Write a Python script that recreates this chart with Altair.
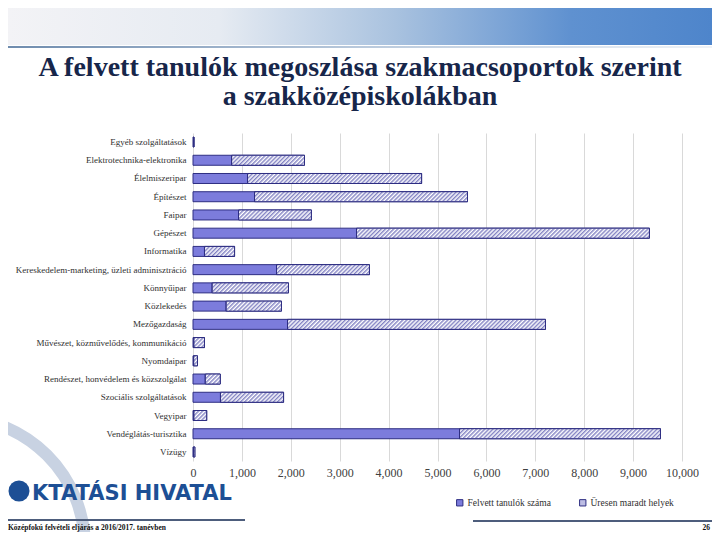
import base64
import altair as alt
import pandas as pd

# ---- data ----
categories = [
    "Egyéb szolgáltatások",
    "Elektrotechnika-elektronika",
    "Élelmiszeripar",
    "Építészet",
    "Faipar",
    "Gépészet",
    "Informatika",
    "Kereskedelem-marketing, üzleti adminisztráció",
    "Könnyűipar",
    "Közlekedés",
    "Mezőgazdaság",
    "Művészet, közművelődés, kommunikáció",
    "Nyomdaipar",
    "Rendészet, honvédelem és közszolgálat",
    "Szociális szolgáltatások",
    "Vegyipar",
    "Vendéglátás-turisztika",
    "Vízügy",
]
felvett = [12, 790, 1115, 1258, 931, 3344, 235, 1708, 393, 679, 1933, 20, 15, 252, 562, 20, 5450, 10]
ures = [8, 1490, 3560, 4355, 1490, 5990, 615, 1900, 1560, 1130, 5275, 215, 77, 305, 1290, 260, 4110, 28]
series_names = ["Felvett tanulók száma", "Üresen maradt helyek"]
x_ticks = [0, 1000, 2000, 3000, 4000, 5000, 6000, 7000, 8000, 9000, 10000]

title_lines = "A felvett tanulók megoszlása szakmacsoportok szerint\na szakközépiskolákban"
logo_text = "KTATÁSI HIVATAL"
footer_text = "Középfokú felvételi eljárás a 2016/2017. tanévben"
page_number = "26"

# ---- styles ----
PLOT_W, PLOT_H = 489, 328
BAR_H = 10
NAVY = "#2e2e82"
FILL = "#7c7cdc"
HATCH = "#8484c4"
SERIF = "Liberation Serif"


def hatch_url(px_w, px_h):
    w = max(px_w, 1)
    svg = (
        f"<svg xmlns='http://www.w3.org/2000/svg' width='{w:.2f}' height='{px_h}' "
        f"viewBox='0 0 {w:.2f} {px_h}' preserveAspectRatio='none'>"
        "<defs><pattern id='p' width='2.9' height='2.9' patternUnits='userSpaceOnUse' "
        "patternTransform='rotate(45)'>"
        f"<rect width='1.45' height='2.9' fill='{HATCH}'/></pattern></defs>"
        "<rect width='100%' height='100%' fill='white'/>"
        "<rect width='100%' height='100%' fill='url(#p)'/></svg>"
    )
    return "data:image/svg+xml;base64," + base64.b64encode(svg.encode()).decode()


rows = []
for c, f, u in zip(categories, felvett, ures):
    rows.append({"cat": c, "series": series_names[0], "x0": 0, "x1": f, "img": ""})
    rows.append({
        "cat": c, "series": series_names[1], "x0": f, "x1": f + u,
        "img": hatch_url(u / 10000 * PLOT_W, BAR_H),
    })
df = pd.DataFrame(rows)
df_u = df[df["series"] == series_names[1]]

xscale = alt.Scale(domain=[0, 10000], nice=False)
yscale = alt.Scale(domain=categories, paddingInner=0.45, paddingOuter=0.22)

x_enc = alt.X(
    "x0:Q", scale=xscale, title=None,
    axis=alt.Axis(values=x_ticks, format=",d", grid=True, gridColor="#d9d9d9",
                  domain=False, ticks=False, labelFont=SERIF, labelFontSize=12,
                  labelColor="#404040", labelPadding=6, labelFlush=False,
                  labelOverlap=False),
)
y_enc = alt.Y(
    "cat:N", scale=yscale, sort=categories, title=None,
    axis=alt.Axis(domain=False, ticks=False, grid=False, labelFont=SERIF,
                  labelFontSize=9, labelColor="#303030", labelPadding=7,
                  labelLimit=300),
)

bars = alt.Chart(df).mark_bar(height=BAR_H, stroke=NAVY, strokeWidth=1).encode(
    x=x_enc, x2="x1:Q", y=y_enc,
    fill=alt.Fill(
        "series:N",
        scale=alt.Scale(domain=series_names, range=[FILL, "#bdbde4"]),
        legend=alt.Legend(
            title=None, orient="none", legendX=262, legendY=365,
            direction="horizontal", symbolType="square", symbolSize=40,
            symbolStrokeColor=NAVY, symbolStrokeWidth=1, labelFont=SERIF,
            labelFontSize=9.5, labelColor="#303030", columnPadding=26,
            labelOffset=3,
        ),
    ),
)

hatch = alt.Chart(df_u).mark_image(height=BAR_H, aspect=False).encode(
    x="x0:Q", x2="x1:Q", y=alt.Y("cat:N", sort=categories), url="img:N"
)

outline = alt.Chart(df_u).mark_bar(
    height=BAR_H, fill="transparent", stroke=NAVY, strokeWidth=1
).encode(x="x0:Q", x2="x1:Q", y=alt.Y("cat:N", sort=categories))

one = pd.DataFrame({"t": [""]})

banner = alt.Chart(one).mark_rect(
    fill={"gradient": "linear", "x1": 0, "x2": 1, "y1": 0, "y2": 0,
          "stops": [{"offset": 0, "color": "#f3f3f6"},
                    {"offset": 0.3, "color": "#e6ebf2"},
                    {"offset": 0.55, "color": "#a9c2df"},
                    {"offset": 0.8, "color": "#5f91d0"},
                    {"offset": 1, "color": "#4e85cb"}]}
).encode(x=alt.value(-185), x2=alt.value(519), y=alt.value(-125), y2=alt.value(-88))

banner_line = alt.Chart(one).mark_rect(
    fill={"gradient": "linear", "x1": 0, "x2": 1, "y1": 0, "y2": 0,
          "stops": [{"offset": 0, "color": "#6f8cae"},
                    {"offset": 0.5, "color": "#b9c9dc"},
                    {"offset": 1, "color": "#eef2f7"}]}
).encode(x=alt.value(-185), x2=alt.value(519), y=alt.value(-87), y2=alt.value(-85))

title = alt.Chart(pd.DataFrame({"t": [title_lines]})).mark_text(
    font=SERIF, fontSize=28, fontWeight="bold", color="#17264a", align="center",
    baseline="alphabetic", lineBreak="\n", lineHeight=29,
).encode(text="t:N", x=alt.value(167), y=alt.value(-57))

swoosh = alt.Chart(one).mark_point(
    shape="circle", filled=False, size=67600, stroke="#c8d2e2", strokeWidth=12,
    opacity=1,
).encode(x=alt.value(-238), y=alt.value(414))

logo_dot = alt.Chart(one).mark_point(
    shape="circle", filled=True, size=440, color="#1d4f95", opacity=1
).encode(x=alt.value(-174), y=alt.value(358))

logo = alt.Chart(pd.DataFrame({"t": [logo_text]})).mark_text(
    font="DejaVu Sans", fontSize=21, fontWeight="bold", color="#1d4f95",
    align="left", baseline="alphabetic",
).encode(text="t:N", x=alt.value(-161), y=alt.value(367))

foot_l = alt.Chart(one).mark_rule(color="#4d5d7c", strokeWidth=2).encode(
    x=alt.value(-185), x2=alt.value(52), y=alt.value(387))
foot_r = alt.Chart(one).mark_rule(color="#4d5d7c", strokeWidth=2).encode(
    x=alt.value(280), x2=alt.value(519), y=alt.value(388))

foot_txt = alt.Chart(pd.DataFrame({"t": [footer_text]})).mark_text(
    font=SERIF, fontSize=7.5, fontWeight="bold", color="#111111",
    align="left", baseline="alphabetic",
).encode(text="t:N", x=alt.value(-185), y=alt.value(397))

page_txt = alt.Chart(pd.DataFrame({"t": [page_number]})).mark_text(
    font=SERIF, fontSize=7.5, fontWeight="bold", color="#111111",
    align="right", baseline="alphabetic",
).encode(text="t:N", x=alt.value(517), y=alt.value(397))

chart = alt.layer(
    banner, banner_line, swoosh, title, logo_dot, logo, foot_l, foot_r,
    foot_txt, page_txt, bars, hatch, outline,
).properties(
    width=PLOT_W, height=PLOT_H,
    autosize=alt.AutoSizeParams(type="none"),
    padding={"left": 185, "top": 125, "right": 30, "bottom": 71},
    background="white",
).configure_view(stroke=None)

chart.save("out.html", embed_options={"renderer": "svg", "actions": False})
